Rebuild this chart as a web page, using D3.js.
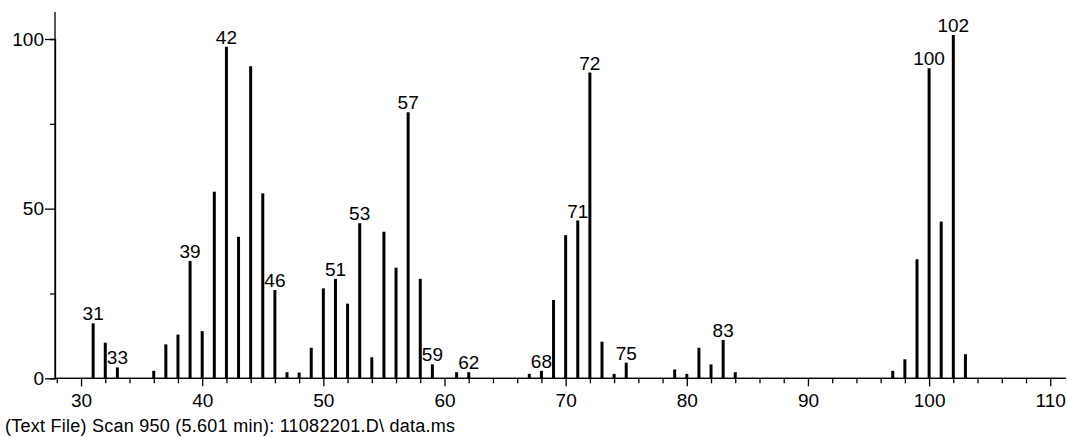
<!DOCTYPE html>
<html>
<head>
<meta charset="utf-8">
<script src="https://cdn.jsdelivr.net/npm/d3@7"></script>
<style>
  html, body { margin: 0; padding: 0; background: #fff; }
  svg { display: block; font-family: "Liberation Sans", Arial, sans-serif; }
</style>
</head>
<body>
<svg id="chart" width="1067" height="437"></svg>
<script>
// m/z values and relative abundances
const mz = [31, 32, 33, 36, 37, 38, 39, 40, 41, 42, 43, 44, 45, 46, 47, 48, 49, 50, 51, 52, 53, 54, 55, 56, 57, 58, 59, 61, 62, 67, 68, 69, 70, 71, 72, 73, 74, 75, 79, 80, 81, 82, 83, 84, 97, 98, 99, 100, 101, 102, 103];
const abundance = [16.2, 10.5, 3.2, 2.2, 10.0, 12.9, 34.6, 13.9, 55.0, 97.7, 41.7, 92.0, 54.5, 26.0, 1.8, 1.7, 9.0, 26.5, 29.3, 22.0, 45.7, 6.2, 43.2, 32.6, 78.4, 29.3, 4.1, 1.8, 1.8, 1.3, 2.2, 23.1, 42.2, 46.5, 90.1, 10.8, 1.3, 4.6, 2.6, 1.3, 9.0, 4.1, 11.3, 1.8, 2.2, 5.6, 35.1, 91.4, 46.2, 101.2, 7.1];
const labelled = [31, 33, 39, 42, 46, 51, 53, 57, 59, 62, 68, 71, 72, 75, 83, 100, 102];
const xMajorTicks = [30, 40, 50, 60, 70, 80, 90, 100, 110];
const xMinorTicks = [28, 32, 34, 36, 38, 42, 44, 46, 48, 52, 54, 56, 58, 62, 64, 66, 68, 72, 74, 76, 78, 82, 84, 86, 88, 92, 94, 96, 98, 102, 104, 106, 108];
const yMajorTicks = [0, 50, 100];
const yMinorTicks = [25, 75];
const caption = "(Text File) Scan 950 (5.601 min): 11082201.D\\ data.ms";

const svg = d3.select("#chart");
const x = d3.scaleLinear().domain([27.85, 111.3]).range([55, 1066]);
const y = d3.scaleLinear().domain([0, 100]).range([378.3, 39]);

const data = mz.map((m, i) => ({ m, v: abundance[i] }));

// bars (sticks)
svg.append("g").selectAll("line").data(data).join("line")
  .attr("x1", d => x(d.m)).attr("x2", d => x(d.m))
  .attr("y1", y(0)).attr("y2", d => y(d.v))
  .attr("stroke", "#000").attr("stroke-width", 3);

// x axis
const gx = svg.append("g").attr("transform", `translate(0,${y(0)})`);
gx.call(d3.axisBottom(x).tickValues(xMajorTicks).tickSize(8).tickPadding(7).tickFormat(d3.format("d")));
gx.append("g").call(d3.axisBottom(x).tickValues(xMinorTicks).tickSize(5).tickFormat(""));
gx.selectAll(".domain").attr("d", `M${x.range()[0]},0H${x.range()[1]}`);

// y axis
const gy = svg.append("g").attr("transform", `translate(55,0)`);
gy.call(d3.axisLeft(y).tickValues(yMajorTicks).tickSize(10).tickPadding(1).tickFormat(d3.format("d")));
gy.append("g").call(d3.axisLeft(y).tickValues(yMinorTicks).tickSize(5).tickFormat(""));
gy.select(".domain").attr("d", `M0,12V${y(0)}`);

svg.selectAll(".domain, .tick line").attr("stroke", "#000").attr("stroke-width", 1.3);
svg.selectAll(".tick text").attr("font-size", 19).attr("fill", "#000")
  .attr("font-family", "Liberation Sans, Arial, sans-serif");

// peak labels
svg.append("g").selectAll("text").data(data.filter(d => labelled.includes(d.m))).join("text")
  .attr("x", d => x(d.m)).attr("y", d => y(d.v) - 3)
  .attr("text-anchor", "middle").attr("font-size", 19).attr("fill", "#000")
  .text(d => d.m);

// caption
svg.append("text").attr("x", 5).attr("y", 432).attr("font-size", 18).attr("fill", "#000")
  .attr("textLength", 450).attr("lengthAdjust", "spacing")
  .text(caption);
</script>
</body>
</html>
